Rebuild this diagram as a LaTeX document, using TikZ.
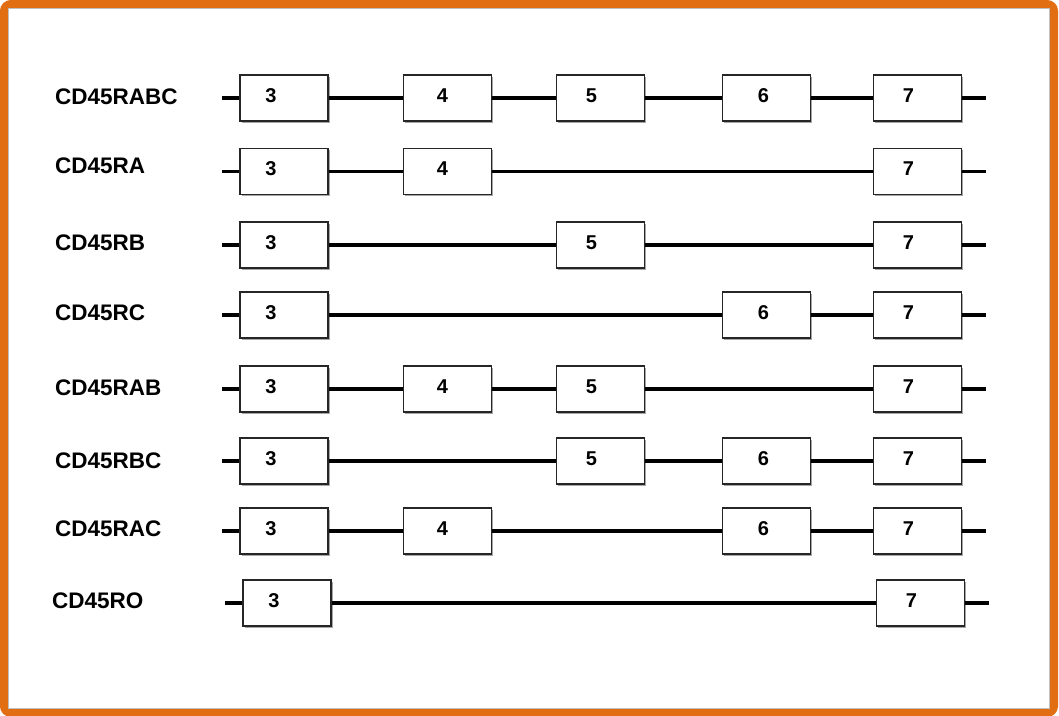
\documentclass[tikz,border=0pt]{standalone}
\usepackage{fontspec}
\setmainfont{Liberation Sans}
\usetikzlibrary{shadows}
\definecolor{frameorange}{RGB}{226,110,20}
\begin{document}
\begin{tikzpicture}[x=1pt,y=-1pt,
  exon/.style={draw=black!85, line width=1.7pt, fill=white,
    minimum width=88pt, minimum height=46pt, inner sep=0pt,
    drop shadow={shadow xshift=1.5pt, shadow yshift=-1.5pt, opacity=0.35, fill=black}},
  num/.style={font=\bfseries\fontsize{20}{22}\selectfont, inner sep=0pt},
  iso/.style={font=\bfseries\fontsize{22.5}{25}\selectfont, anchor=west, inner sep=0pt},
  intron/.style={line width=3.1pt, black}]
\useasboundingbox (0,0) rectangle (1059,715);
\fill[white] (0,0) rectangle (1059,715);
% outer frame
\draw[frameorange, line width=8pt, rounded corners=7pt] (4,4) rectangle (1054,713);
\draw[black!25, line width=0.6pt] (8.5,8.5) rectangle (1049.5,708.5);
% isoforms: row / line y / name / label x / label y / shift / exons
\foreach \r/\yy/\name/\lx/\ly/\dx/\exs in {
  1/98/CD45RABC/55/97/0/{3,4,5,6,7},
  2/171.5/CD45RA/55/166/0/{3,4,7},
  3/245/CD45RB/55/243/0/{3,5,7},
  4/315/CD45RC/55/313/0/{3,6,7},
  5/389/CD45RAB/55/388/0/{3,4,5,7},
  6/461/CD45RBC/55/461/0/{3,5,6,7},
  7/531/CD45RAC/55/529/0/{3,4,6,7},
  8/603/CD45RO/52/601/3/{3,7}}{
  \node[iso] (lab\r) at (\lx,\ly) {\name};
  \coordinate (r\r-s) at (222+\dx,\yy);
  \coordinate (r\r-t) at (986+\dx,\yy);
  \foreach \e in \exs {
    % box centre and number offset for exon \e
    \pgfmathsetmacro\ex{{0,0,0,284,447.5,600.5,766.5,917.5}[\e]+\dx}
    \pgfmathsetmacro\nx{{0,0,0,-13,-5,-9,-3,-9}[\e]}
    \node[exon] (r\r-\e) at (\ex,\yy) {};
    \node[num, xshift=\nx pt, yshift=2.5pt] (r\r-n\e) at (r\r-\e) {\e};
  }
  \foreach \e [remember=\e as \prev (initially s)] in \exs {
    \draw[intron] (r\r-\prev) -- (r\r-\e);
  }
  \draw[intron] (r\r-7) -- (r\r-t);
}
\end{tikzpicture}
\end{document}
